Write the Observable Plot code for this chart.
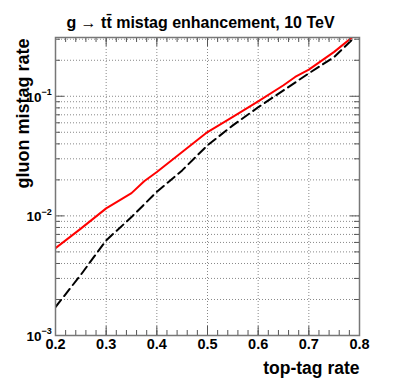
<!DOCTYPE html>
<html>
<head>
<meta charset="utf-8">
<script src="https://cdn.jsdelivr.net/npm/d3@7"></script>
<script src="https://cdn.jsdelivr.net/npm/@observablehq/plot@0.6"></script>
<style>
  html, body { margin: 0; padding: 0; background: #fff; }
</style>
</head>
<body>
<div id="chart"></div>
<script>
const titleText = "g \u2192 tt\u0304 mistag enhancement, 10 TeV";
const xTitle = "top-tag rate";
const yTitle = "gluon mistag rate";

const xRed = [0.2, 0.25, 0.3, 0.35, 0.375, 0.4, 0.45, 0.5, 0.55, 0.6, 0.65, 0.673, 0.7, 0.75, 0.785];
const red  = [0.00538, 0.00782, 0.01156, 0.0155, 0.0195, 0.0233, 0.0342, 0.0502, 0.0672, 0.0908, 0.1236, 0.145, 0.167, 0.235, 0.31];

const xBlack = [0.2, 0.25, 0.3, 0.35, 0.4, 0.45, 0.5, 0.55, 0.6, 0.65, 0.7, 0.75, 0.79];
const black  = [0.00173, 0.00322, 0.00624, 0.00977, 0.0159, 0.024, 0.0389, 0.0571, 0.0809, 0.112, 0.1556, 0.213, 0.31];

const xMajor = [0.2, 0.3, 0.4, 0.5, 0.6, 0.7, 0.8];
const xMinor = d3.range(0.2, 0.8001, 0.02);
const xGrid = [0.3, 0.4, 0.5, 0.6, 0.7];
const yMajor = [0.001, 0.01, 0.1];
const yExp = ["\u22123", "\u22122", "\u22121"];
const yMinor = [0.002,0.003,0.004,0.005,0.006,0.007,0.008,0.009,
                0.02,0.03,0.04,0.05,0.06,0.07,0.08,0.09,
                0.2,0.3];
const yGrid = yMajor.slice(1).concat(yMinor);

const W = 399, H = 385, mL = 55, mR = 40, mT = 37, mB = 50;
const pw = W - mL - mR, ph = H - mT - mB;
const majLen = 9, minLen = 5;
const tickColor = "#555";
const font = "'Liberation Sans', Arial, Helvetica, sans-serif";

const red_data = xRed.map((x, i) => ({x, y: red[i]}));
const black_data = xBlack.map((x, i) => ({x, y: black[i]}));

const chart = Plot.plot({
  width: W, height: H,
  marginLeft: mL, marginRight: mR, marginTop: mT, marginBottom: mB,
  x: {domain: [0.2, 0.8], axis: null},
  y: {type: "log", domain: [0.001, 0.31], axis: null},
  style: {fontFamily: font, fontWeight: "bold", background: "#fff", color: "#000"},
  marks: [
    // grid
    Plot.ruleX(xGrid, {x: d => d, stroke: "#888", strokeDasharray: "1,2", strokeWidth: 1}),
    Plot.ruleY(yGrid, {y: d => d, stroke: "#888", strokeDasharray: "1,2", strokeWidth: 1}),
    // curves
    Plot.line(red_data, {x: "x", y: "y", stroke: "#ff0000", strokeWidth: 2, clip: true}),
    Plot.line(black_data, {x: "x", y: "y", stroke: "#000", strokeWidth: 2, strokeDasharray: "9,5", clip: true}),
    // ticks bottom/top
    Plot.tickX(xMajor, {x: d => d, insetTop: ph - majLen, stroke: tickColor}),
    Plot.tickX(xMinor, {x: d => d, insetTop: ph - minLen, stroke: tickColor}),
    Plot.tickX(xMajor, {x: d => d, insetBottom: ph - majLen, stroke: tickColor}),
    Plot.tickX(xMinor, {x: d => d, insetBottom: ph - minLen, stroke: tickColor}),
    // ticks left/right
    Plot.tickY(yMajor, {y: d => d, insetRight: pw - majLen, stroke: tickColor}),
    Plot.tickY(yMinor, {y: d => d, insetRight: pw - minLen, stroke: tickColor}),
    Plot.tickY(yMajor, {y: d => d, insetLeft: pw - majLen, stroke: tickColor}),
    Plot.tickY(yMinor, {y: d => d, insetLeft: pw - minLen, stroke: tickColor}),
    Plot.frame({stroke: "#777", strokeWidth: 1.5}),
    // tick labels
    Plot.text(xMajor, {x: d => d, frameAnchor: "bottom", dy: 13, text: d => d.toFixed(1), fontSize: 14.5, fontWeight: "bold", fill: "#000"}),
    Plot.text(yMajor, {y: d => d, frameAnchor: "left", dx: -14, dy: 1, textAnchor: "end", text: () => "10", fontSize: 13.5, fontWeight: "bold", fill: "#000"}),
    Plot.text(yMajor, {y: d => d, frameAnchor: "left", dx: -14, dy: -4, textAnchor: "start", text: (d, i) => yExp[i], fontSize: 9, fontWeight: "bold", fill: "#000"}),
    // titles
    Plot.text([titleText], {text: d => d, frameAnchor: "top", dx: -7, dy: -21, fontSize: 16, fontWeight: "bold", fill: "#000"}),
    Plot.text([xTitle], {text: d => d, frameAnchor: "bottom-right", textAnchor: "end", dy: 38, fontSize: 17.5, fontWeight: "bold", fill: "#000"}),
    Plot.text([yTitle], {text: d => d, frameAnchor: "top-left", rotate: -90, textAnchor: "end", dx: -39, dy: 1, fontSize: 18, fontWeight: "bold", fill: "#000"})
  ]
});
document.getElementById("chart").appendChild(chart);
</script>
</body>
</html>
